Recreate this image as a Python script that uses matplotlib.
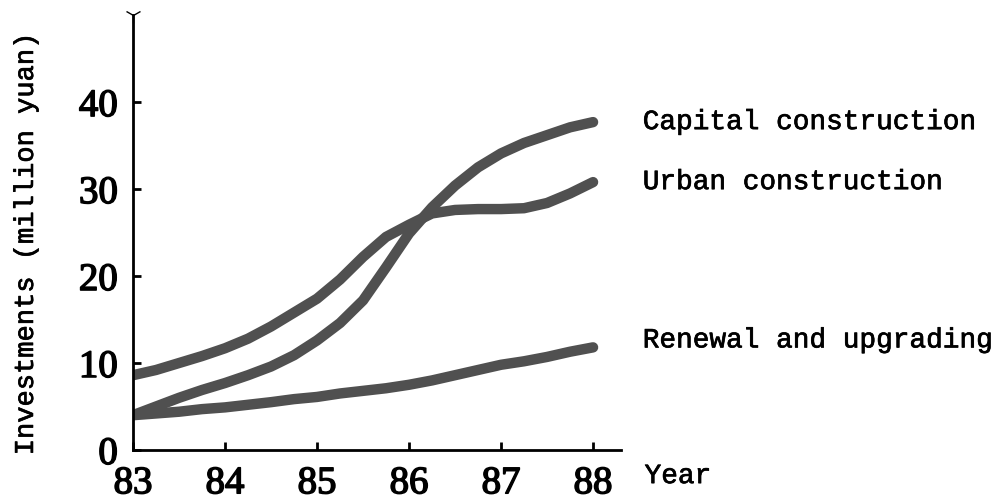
import matplotlib
matplotlib.use("Agg")
import matplotlib.pyplot as plt
import matplotlib.patheffects as pe

# valores (cada cuarto de anio)
anios = [83, 83.25, 83.5, 83.75, 84, 84.25, 84.5, 84.75, 85, 85.25, 85.5,
         85.75, 86, 86.25, 86.5, 86.75, 87, 87.25, 87.5, 87.75, 88]
capital = [4.0, 5.0, 6.0, 6.9, 7.7, 8.6, 9.6, 10.9, 12.6, 14.6, 17.2,
           21.0, 24.9, 27.9, 30.4, 32.5, 34.1, 35.3, 36.2, 37.1, 37.7]
urbana = [8.6, 9.2, 10.0, 10.8, 11.7, 12.8, 14.2, 15.8, 17.4, 19.6, 22.2,
          24.5, 25.9, 27.2, 27.6, 27.7, 27.7, 27.8, 28.4, 29.5, 30.8]
renovacion = [4.0, 4.2, 4.4, 4.7, 4.9, 5.2, 5.5, 5.85, 6.1, 6.5, 6.8,
              7.1, 7.5, 8.0, 8.6, 9.2, 9.8, 10.2, 10.7, 11.3, 11.8]

etiquetas = ["Capital construction", "Urban construction", "Renewal and upgrading"]
ticks_x = [83, 84, 85, 86, 87, 88]
ticks_y = [0, 10, 20, 30, 40]

mono = "Liberation Mono"
serif = "Liberation Serif"
grueso = [pe.withStroke(linewidth=1.1, foreground="black")]
grueso_mono = [pe.withStroke(linewidth=0.5, foreground="black")]

fig = plt.figure(figsize=(9.98, 5.01), dpi=100)
ax = fig.add_axes([0.1333, 0.1018, 0.4886, 0.868])

color_linea = "#505050"
for serie in [capital, urbana, renovacion]:
    ax.plot(anios, serie, color=color_linea, lw=7.5, solid_capstyle="round",
            solid_joinstyle="round")

ax.set_xlim(83, 88.3)
ax.set_ylim(0, 50)

for s in ["top", "right"]:
    ax.spines[s].set_visible(False)
for s in ["left", "bottom"]:
    ax.spines[s].set_linewidth(2)

ax.set_xticks(ticks_x)
ax.set_xticklabels([str(t) for t in ticks_x])
ax.set_yticks(ticks_y)
ax.set_yticklabels([str(t) for t in ticks_y])
ax.tick_params(direction="in", length=6, width=2)
ax.tick_params(axis="x", pad=11)
ax.tick_params(axis="y", pad=11)
for lab in ax.get_xticklabels() + ax.get_yticklabels():
    lab.set_fontfamily(serif)
    lab.set_fontsize(28)
    lab.set_path_effects(grueso)

# flecha del eje y
ax.plot(0, 1, marker="1", color="black", markersize=12, transform=ax.transAxes,
        clip_on=False)

finales = [capital[-1], urbana[-1], renovacion[-1] + 0.8]
for nombre, yv in zip(etiquetas, finales):
    ax.text(88.54, yv, nombre, fontfamily=mono, fontsize=20, va="center",
            ha="left", clip_on=False, path_effects=grueso_mono)
ax.text(88.56, -3.0, "Year", fontfamily=mono, fontsize=20, va="center",
        ha="left", clip_on=False, path_effects=grueso_mono)

fig.text(0.026, 0.513, "Investments (million yuan)", rotation=90, fontfamily=mono,
         fontsize=19.5, va="center", ha="center", path_effects=grueso_mono)

fig.savefig("out.png", dpi=100)
